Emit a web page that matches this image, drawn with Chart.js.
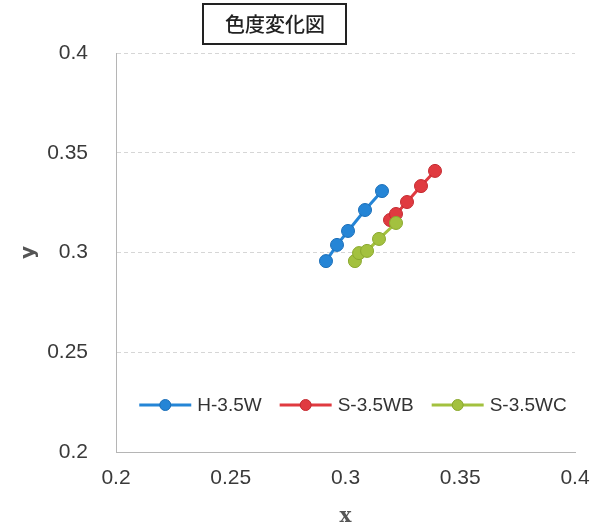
<!DOCTYPE html>
<html>
<head>
<meta charset="utf-8">
<script src="https://cdn.jsdelivr.net/npm/chart.js@4/dist/chart.umd.min.js"></script>
<style>
  html, body { margin: 0; padding: 0; background: #fff; }
  #wrap { width: 595px; height: 527px; }
</style>
</head>
<body>
<div id="wrap"><canvas id="chart" width="595" height="527"></canvas></div>
<script>
// values
const seriesNames = ['H-3.5W', 'S-3.5WB', 'S-3.5WC'];
const blueX = [0.2915, 0.2963, 0.3011, 0.3085, 0.3159];
const blueY = [0.2957, 0.3038, 0.3108, 0.3213, 0.3308];
const redX = [0.3194, 0.3220, 0.3268, 0.3329, 0.3390];
const redY = [0.3163, 0.3193, 0.3253, 0.3333, 0.3409];
const greenX = [0.3041, 0.3059, 0.3094, 0.3146, 0.3220];
const greenY = [0.2957, 0.2997, 0.3008, 0.3068, 0.3148];
const xTicks = [0.2, 0.25, 0.3, 0.35, 0.4];
const yTicks = [0.2, 0.25, 0.3, 0.35, 0.4];
const chartTitle = '色度変化図';

const colors = ['#2585d6', '#e03a40', '#a3c13f'];
const edges = ['#1c6fb8', '#c42a30', '#8aa82e'];

const pts = (xs, ys) => xs.map((x, i) => ({ x, y: ys[i] }));
const seriesData = [pts(blueX, blueY), pts(redX, redY), pts(greenX, greenY)];

const datasets = seriesNames.map((name, i) => ({
  label: name,
  data: seriesData[i],
  showLine: true,
  borderColor: colors[i],
  borderWidth: 3,
  backgroundColor: colors[i],
  pointBackgroundColor: colors[i],
  pointBorderColor: edges[i],
  pointBorderWidth: 1,
  pointRadius: 6.5,
  order: 2 - i
}));

// boxed title drawn above the plot
const titleBox = {
  id: 'titleBox',
  afterDraw(chart) {
    const ctx = chart.ctx;
    ctx.save();
    ctx.strokeStyle = '#222';
    ctx.lineWidth = 2;
    ctx.strokeRect(203, 4, 143, 40);
    ctx.font = '500 20px "Noto Sans CJK JP"';
    ctx.fillStyle = '#222';
    ctx.textAlign = 'center';
    ctx.textBaseline = 'middle';
    ctx.fillText(chartTitle, 275, 24);
    ctx.restore();
  }
};

// legend inside the plot area, near the bottom
const innerLegend = {
  id: 'innerLegend',
  afterDraw(chart) {
    const ctx = chart.ctx;
    const sets = chart.data.datasets;
    ctx.save();
    ctx.font = '19px "Liberation Sans"';
    const lineLen = 52, gap = 6, itemGap = 18;
    const widths = sets.map(d => lineLen + gap + ctx.measureText(d.label).width);
    const total = widths.reduce((a, b) => a + b, 0) + itemGap * (sets.length - 1);
    let x = 353 - total / 2;
    const y = 405;
    sets.forEach((d, i) => {
      ctx.strokeStyle = d.borderColor;
      ctx.lineWidth = 3;
      ctx.beginPath();
      ctx.moveTo(x, y);
      ctx.lineTo(x + lineLen, y);
      ctx.stroke();
      ctx.beginPath();
      ctx.arc(x + lineLen / 2, y, 5.5, 0, Math.PI * 2);
      ctx.fillStyle = d.pointBackgroundColor;
      ctx.fill();
      ctx.lineWidth = 1;
      ctx.strokeStyle = d.pointBorderColor;
      ctx.stroke();
      ctx.fillStyle = '#333';
      ctx.textAlign = 'left';
      ctx.textBaseline = 'middle';
      ctx.fillText(d.label, x + lineLen + gap, y + 1);
      x += widths[i] + itemGap;
    });
    ctx.restore();
  }
};

const tickFont = { family: '"Liberation Sans"', size: 21 };

new Chart(document.getElementById('chart'), {
  type: 'scatter',
  data: { datasets },
  plugins: [titleBox, innerLegend],
  options: {
    responsive: false,
    animation: false,
    layout: { padding: { top: 53, right: 20, left: 0, bottom: 0 } },
    plugins: {
      legend: { display: false },
      tooltip: { enabled: false }
    },
    scales: {
      x: {
        type: 'linear',
        min: 0.2,
        max: 0.4,
        afterBuildTicks: s => { s.ticks = xTicks.map(v => ({ value: v })); },
        afterFit: s => { s.height = 75; s.paddingLeft = 0; s.paddingRight = 0; },
        grid: { display: false, drawTicks: false },
        border: { display: true, color: '#b5b5b5', width: 1 },
        ticks: {
          color: '#3a3a3a',
          font: tickFont,
          padding: 14,
          maxRotation: 0,
          callback: v => String(v)
        },
        title: {
          display: true,
          text: 'x',
          color: '#555',
          font: { family: '"DejaVu Serif"', size: 20, weight: 'bold', lineHeight: 1 },
          padding: { top: 0, bottom: 0 }
        }
      },
      y: {
        type: 'linear',
        min: 0.2,
        max: 0.4,
        afterBuildTicks: s => { s.ticks = yTicks.map(v => ({ value: v })); },
        afterFit: s => { s.width = 116; },
        grid: { color: '#d6d6d6', lineWidth: 1, drawTicks: false },
        border: { display: true, color: '#b5b5b5', width: 1, dash: [4, 3] },
        ticks: {
          color: '#3a3a3a',
          font: tickFont,
          padding: 28,
          callback: v => String(v)
        },
        title: {
          display: true,
          text: 'y',
          color: '#555',
          font: { family: '"DejaVu Sans"', size: 20, weight: 'bold', lineHeight: 1 },
          padding: { top: 19, bottom: 0 }
        }
      }
    }
  }
});
</script>
</body>
</html>
